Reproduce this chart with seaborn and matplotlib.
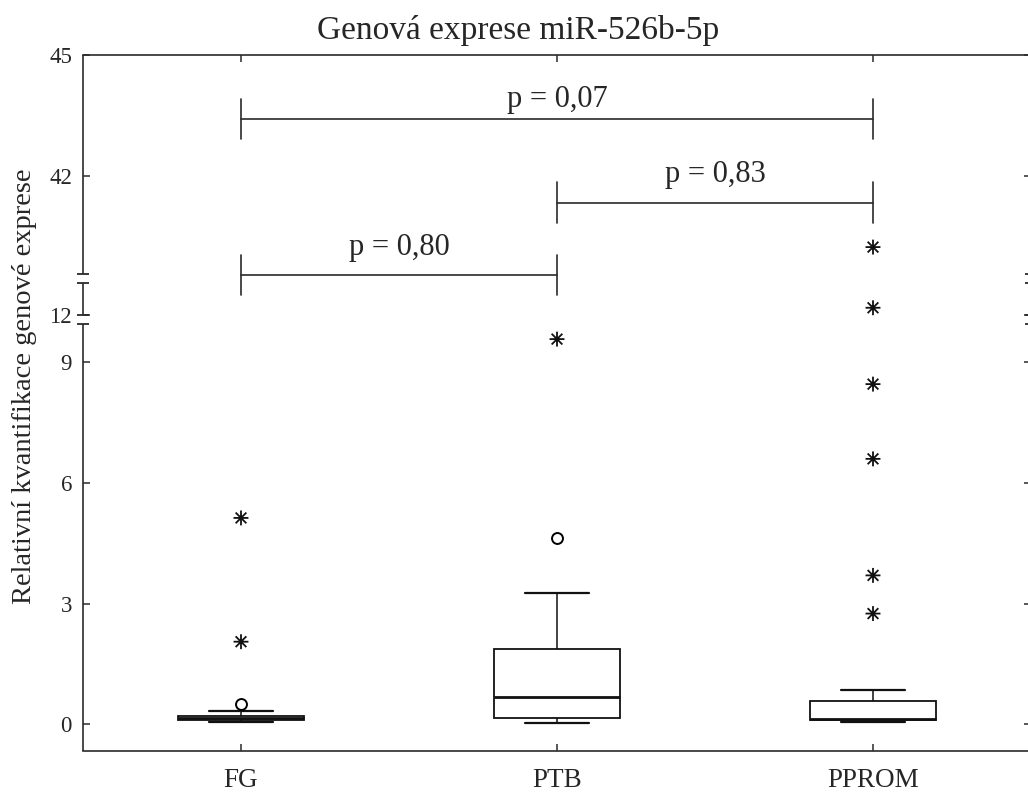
import numpy as np
import pandas as pd
import matplotlib
matplotlib.use("Agg")
import matplotlib.pyplot as plt
import seaborn as sns
from matplotlib.path import Path
from matplotlib.transforms import blended_transform_factory

# ---- data -------------------------------------------------------------
groups = ["FG", "PTB", "PPROM"]

fg_values = [0.06, 0.07, 0.09, 0.10, 0.11, 0.12, 0.13, 0.14, 0.15, 0.17,
             0.18, 0.20, 0.21, 0.32, 0.50, 2.05, 5.13]
ptb_values = [0.03, 0.07, 0.11, 0.15, 0.28, 0.45, 0.67, 0.95, 1.40, 1.86,
              3.25, 4.64, 9.58]
pprom_values = [0.04, 0.05, 0.05, 0.06, 0.07, 0.07, 0.08, 0.09, 0.10, 0.10,
                0.11, 0.11, 0.12, 0.12, 0.13, 0.16, 0.20, 0.26, 0.33, 0.41,
                0.50, 0.58, 0.84, 2.75, 3.70, 6.60, 8.46, 12.18, 40.22]

comparisons = [("FG", "PPROM", "p = 0,07"),
               ("PTB", "PPROM", "p = 0,83"),
               ("FG", "PTB", "p = 0,80")]

y_ticks = [0, 3, 6, 9, 12, 42, 45]

title = "Genová exprese miR-526b-5p"
y_label = "Relativní kvantifikace genové exprese"

# ---- broken value axis --------------------------------------------------
# visible value ranges, stacked bottom to top with a small gap between them
segments = [(-0.67, 9.96), (12.0, 12.8), (39.55, 45.0)]
gap = 0.22

val_bp, pos_bp = [], []
p = 0.0
for k, (lo, hi) in enumerate(segments):
    if k:
        p += gap
    val_bp += [lo, hi]
    pos_bp += [p, p + (hi - lo)]
    p += hi - lo
val_bp = np.array(val_bp)
pos_bp = np.array(pos_bp)


def forward(v):
    v = np.asarray(v, dtype=float)
    out = np.interp(v, val_bp, pos_bp)
    out = np.where(v < val_bp[0], pos_bp[0] + (v - val_bp[0]), out)
    out = np.where(v > val_bp[-1], pos_bp[-1] + (v - val_bp[-1]), out)
    return out


def inverse(q):
    q = np.asarray(q, dtype=float)
    out = np.interp(q, pos_bp, val_bp)
    out = np.where(q < pos_bp[0], val_bp[0] + (q - pos_bp[0]), out)
    out = np.where(q > pos_bp[-1], val_bp[-1] + (q - pos_bp[-1]), out)
    return out


# ---- style ---------------------------------------------------------------
sns.set_style("ticks")
plt.rcParams["font.family"] = ["Liberation Serif", "DejaVu Serif"]
plt.rcParams["axes.edgecolor"] = "#2a2a2a"
plt.rcParams["axes.linewidth"] = 1.2

W, H = 1028, 794
fig = plt.figure(figsize=(W / 100, H / 100), dpi=100)
ax_left, ax_right, ax_top, ax_bottom = 83, 1031, 55, 751
ax = fig.add_axes([ax_left / W, 1 - ax_bottom / H,
                   (ax_right - ax_left) / W, (ax_bottom - ax_top) / H])

df = pd.DataFrame({
    "skupina": np.repeat(groups, [len(fg_values), len(ptb_values), len(pprom_values)]),
    "hodnota": np.concatenate([fg_values, ptb_values, pprom_values]),
})

sns.boxplot(data=df, x="skupina", y="hodnota", order=groups, width=0.4,
            color="white", linecolor="#111111", linewidth=1.3, saturation=1,
            showfliers=False, whis=1.5,
            medianprops=dict(linewidth=2.0),
            whiskerprops=dict(linewidth=1.1),
            capprops=dict(linewidth=1.6),
            ax=ax)

# outliers (circle) and extremes (asterisk)
star = Path([(0, -1), (0, 1), (-1, 0), (1, 0),
             (-0.72, -0.72), (0.72, 0.72), (-0.72, 0.72), (0.72, -0.72)],
            [Path.MOVETO, Path.LINETO] * 4)
for i, vals in enumerate([fg_values, ptb_values, pprom_values]):
    arr = np.asarray(vals)
    q1, q3 = np.percentile(arr, [25, 75])
    iqr = q3 - q1
    outside = (arr > q3 + 1.5 * iqr) | (arr < q1 - 1.5 * iqr)
    extreme = (arr > q3 + 3 * iqr) | (arr < q1 - 3 * iqr)
    mild = outside & ~extreme
    ax.scatter(np.full(mild.sum(), i), arr[mild], marker="o", s=62,
               facecolors="white", edgecolors="black", linewidths=1.4, zorder=4)
    ax.scatter(np.full(extreme.sum(), i), arr[extreme], marker=star, s=115,
               facecolors="none", edgecolors="#111111", linewidths=1.3, zorder=4)

ax.set_yscale("function", functions=(forward, inverse))
ax.set_ylim(segments[0][0], segments[-1][1])
ax.set_xlim(-0.5, 2.5)
ax.set_yticks(y_ticks)
ax.set_yticklabels([str(t) for t in y_ticks])
ax.set_xlabel("")
ax.set_ylabel("")

ax.tick_params(axis="y", left=True, right=True, direction="in", length=5,
               width=1.1, color="#2a2a2a", labelsize=16.5, pad=8)
ax.tick_params(axis="x", top=True, bottom=True, direction="in", length=5,
               width=1.1, color="#2a2a2a", labelsize=19.5, pad=12)

# left spine drawn piecewise with caps at the breaks
ax.spines["left"].set_visible(False)
ax.spines["right"].set_visible(False)
ytrans = ax.get_yaxis_transform()
for lo, hi in segments:
    ax.plot([0, 0], [lo, hi], transform=ytrans, color="#2a2a2a", lw=1.2,
            clip_on=False, zorder=5, solid_capstyle="butt")
for lo, hi in segments:
    for end in (lo, hi):
        if end in (segments[0][0], segments[-1][1]):
            continue
        for xe in (0, 1):
            ax.plot([xe], [end], transform=ytrans, marker="_", ms=8, mew=1.3,
                    color="#2a2a2a", clip_on=False, zorder=5)

# significance brackets
btrans = blended_transform_factory(ax.transData, ax.transAxes)
bracket_y = [0.908, 0.788, 0.684]
label_offset = [0.028, 0.040, 0.040]
for (a, b, label), yb, off in zip(comparisons, bracket_y, label_offset):
    xa, xb = groups.index(a), groups.index(b)
    ax.plot([xa, xb], [yb, yb], transform=btrans, color="#2a2a2a", lw=1.2,
            clip_on=False)
    for xv in (xa, xb):
        ax.plot([xv, xv], [yb - 0.029, yb + 0.029], transform=btrans,
                color="#2a2a2a", lw=1.2, clip_on=False)
    ax.text((xa + xb) / 2, yb + off, label, transform=btrans, ha="center",
            va="center", fontsize=22)

fig.text(518 / W, 1 - 31 / H, title, ha="center", va="center", fontsize=24)
fig.text(25 / W, 1 - 386 / H, y_label, rotation=90, ha="center", va="center",
         fontsize=20.5)

fig.savefig("out.png", dpi=100)
